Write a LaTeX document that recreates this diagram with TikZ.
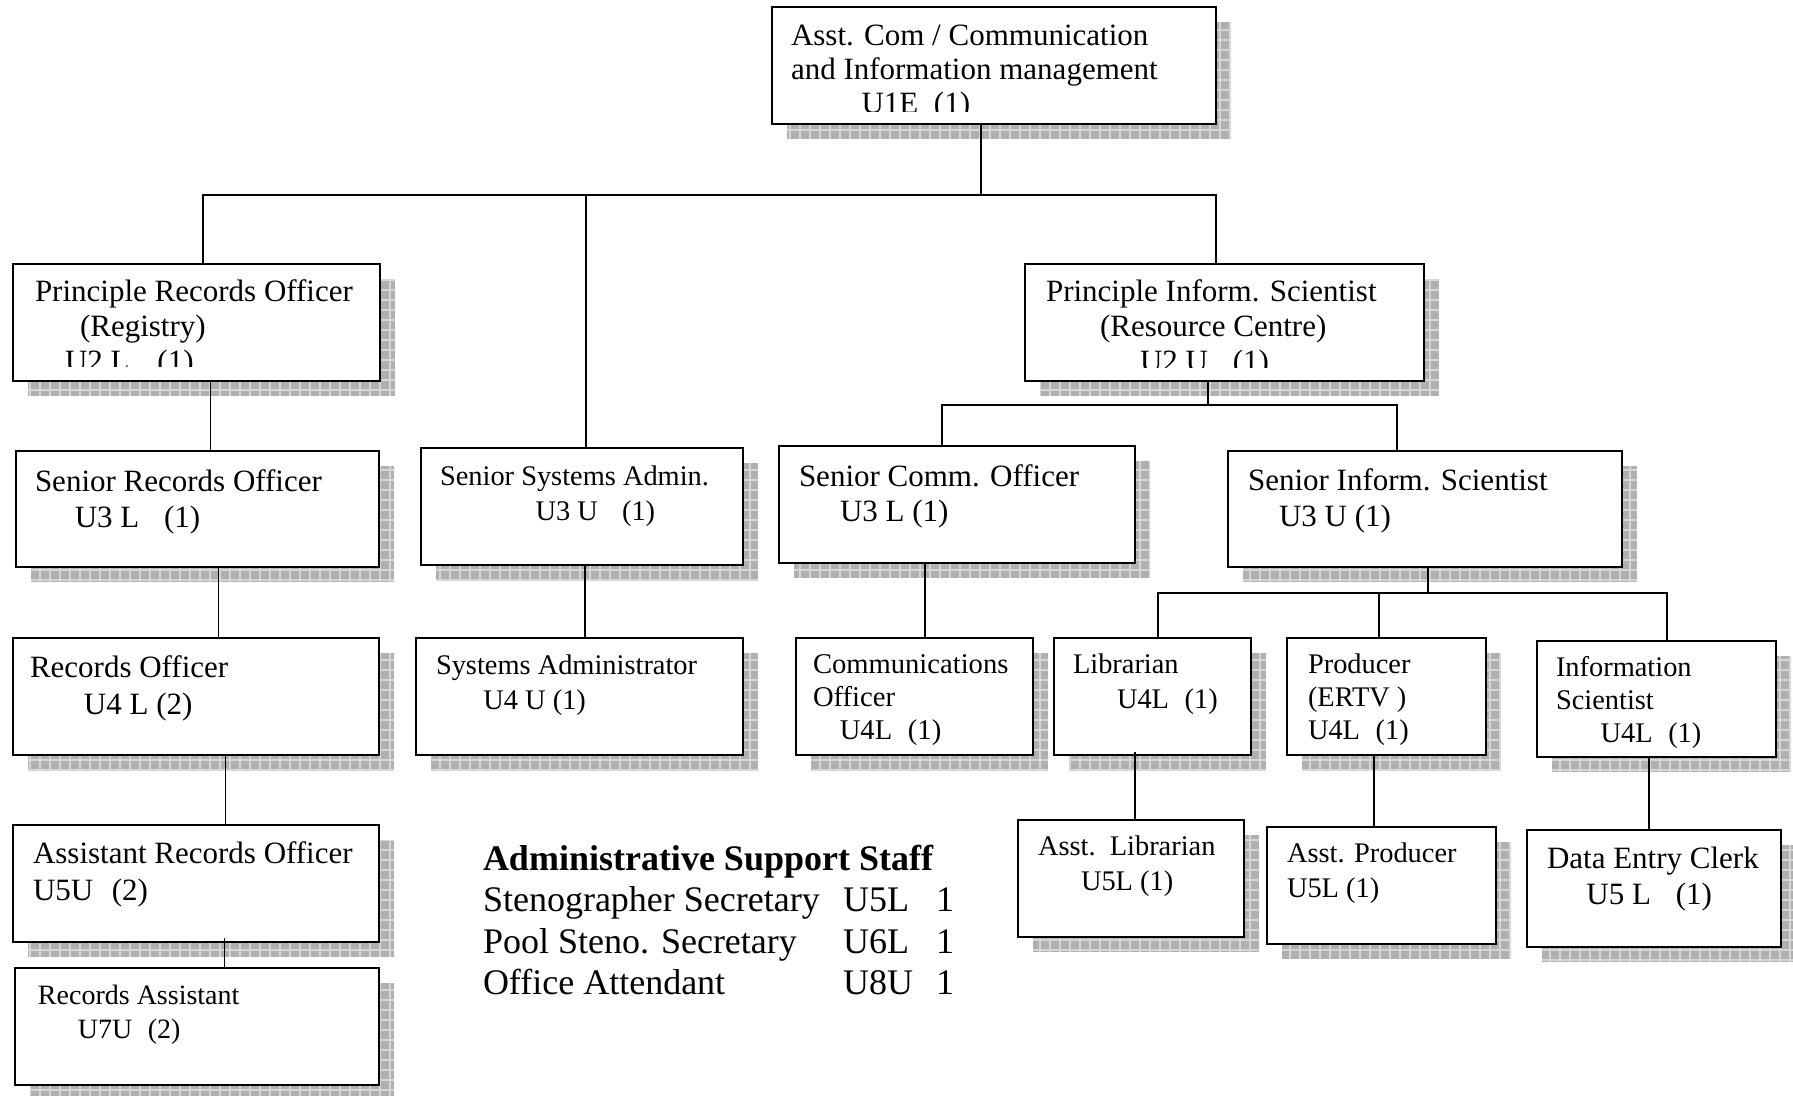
\documentclass[tikz,border=0pt]{standalone}
\usepackage{fontspec}
\setmainfont{Liberation Serif}
\usetikzlibrary{fit}
\pgfdeclarelayer{bg}
\pgfsetlayers{bg,main}
\definecolor{shadowgray}{RGB}{176,176,176}
\definecolor{shadowline}{RGB}{214,214,214}
\newcommand\oneline[2][0pt]{\hbox{\kern#1\relax #2}}
\newcommand\mlines[3]{\vtop{\fontsize{#1}{#2}\selectfont #3}}
\newcommand\shadowrect[4]{%
  \begin{scope}
    \clip (#1+15,#2+15) rectangle (#3+15,#4+15);
    \fill[shadowgray] (#1+15,#2+15) rectangle (#3+15,#4+15);
    \draw[shadowline, line width=0.6pt] (#1+15,#2+15) grid[step=5pt] (#3+15,#4+15);
  \end{scope}}
\newcommand\orgbox[5]{%
  \begin{pgfonlayer}{bg}\shadowrect{#2}{#3}{#4}{#5}\end{pgfonlayer}
  \node[boxstyle, fit={(#2,#3) (#4,#5)}] (#1) {};}
\begin{document}
\begin{tikzpicture}[x=0.5pt, y=-0.5pt,
  boxstyle/.style={draw, line width=1pt, fill=white, inner sep=0pt, outer sep=0pt},
  conn/.style={line width=0.8pt},
  label/.style={anchor=base west, inner sep=0pt, outer sep=0pt}]
\useasboundingbox (0,0) rectangle (1793,1096);

% boxes
\orgbox{top}{772}{7}{1216}{124}
\orgbox{pro}{13}{264}{380}{381}
\orgbox{pis}{1025}{264}{1424}{381}
\orgbox{sro}{16}{451}{379}{567}
\orgbox{ssa}{421}{448}{743}{565}
\orgbox{sco}{779}{446}{1135}{563}
\orgbox{sis}{1228}{451}{1622}{567}
\orgbox{ro}{13}{638}{379}{755}
\orgbox{sysa}{416}{638}{743}{755}
\orgbox{co}{796}{638}{1033}{755}
\orgbox{lib}{1054}{638}{1251}{755}
\orgbox{prod}{1287}{638}{1486}{755}
\orgbox{isci}{1537}{641}{1776}{757}
\orgbox{aro}{13}{825}{379}{942}
\orgbox{ra}{15}{968}{379}{1085}
\orgbox{alib}{1018}{820}{1244}{937}
\orgbox{aprod}{1267}{827}{1496}{944}
\orgbox{dec}{1527}{830}{1781}{947}

% connectors
\coordinate (j1) at (981,195);
\coordinate (j2) at (1208,405);
\coordinate (j3) at (1428,593);
\draw[conn] (top.south -| j1) -- (j1);
\draw[conn] (pro.north -| 203,0) -- (203,195) -- (1216,195) -- (pis.north -| 1216,0);
\draw[conn] (586,195) -- (ssa.north -| 586,0);
\draw[conn] (pro.south -| 210.5,0) -- (sro.north -| 210.5,0);
\draw[conn] (sro.south -| 218.5,0) -- (ro.north -| 218.5,0);
\draw[conn] (ro.south -| 225.5,0) -- (aro.north -| 225.5,0);
\draw[conn] (224.5,938) -- (ra.north -| 224.5,0);
\draw[conn] (ssa.south -| 585,0) -- (sysa.north -| 585,0);
\draw[conn] (pis.south -| j2) -- (j2);
\draw[conn] (sco.north -| 942,0) -- (942,405) -- (1397,405) -- (sis.north -| 1397,0);
\draw[conn] (sco.south -| 925,0) -- (co.north -| 925,0);
\draw[conn] (sis.south -| j3) -- (j3);
\draw[conn] (lib.north -| 1158,0) -- (1158,593) -- (1667,593) -- (isci.north -| 1667,0);
\draw[conn] (1379,593) -- (prod.north -| 1379,0);
\draw[conn] (1135,752) -- (alib.north -| 1135,0);
\draw[conn] (1374,755) -- (aprod.north -| 1374,0);
\draw[conn] (isci.south -| 1649,0) -- (dec.north -| 1649,0);

% texts (clipped ones)
\begin{scope}
  \clip (772,7) rectangle (1216,112);
  \node[label] (ttop) at (791,46) {\mlines{15.5}{17}{%
    \oneline{Asst. Com / Communication}
    \oneline{and Information management}
    \oneline[35.3pt]{U1E\hspace{0.5em}(1)}}};
\end{scope}
\begin{scope}
  \clip (13,264) rectangle (380,367);
  \node[label] (tpro) at (35,302) {\mlines{15.5}{17.5}{%
    \oneline{Principle Records Officer}
    \oneline[22.5pt]{(Registry)}
    \oneline[15pt]{U2 L\hspace{0.9em}(1)}}};
\end{scope}
\begin{scope}
  \clip (1025,264) rectangle (1424,368);
  \node[label] (tpis) at (1046,302) {\mlines{15.5}{17.5}{%
    \oneline{Principle Inform. Scientist}
    \oneline[27pt]{(Resource Centre)}
    \oneline[47pt]{U2 U\hspace{0.8em}(1)}}};
\end{scope}

% texts
\node[label] (tsro) at (35,491) {\mlines{15.5}{18}{%
  \oneline{Senior Records Officer}
  \oneline[19.9pt]{U3 L\hspace{0.8em}(1)}}};
\node[label] (tssa) at (440,485) {\mlines{14.2}{17.5}{%
  \oneline{Senior Systems Admin.}
  \oneline[47.8pt]{U3 U\hspace{0.85em}(1)}}};
\node[label] (tsco) at (799,486) {\mlines{15.5}{17.5}{%
  \oneline{Senior Comm. Officer}
  \oneline[20.5pt]{U3 L (1)}}};
\node[label] (tsis) at (1248,490) {\mlines{15.5}{18}{%
  \oneline{Senior Inform. Scientist}
  \oneline[15.5pt]{U3 U (1)}}};
\node[label] (tro) at (30,677) {\mlines{15.5}{18.5}{%
  \oneline{Records Officer}
  \oneline[27pt]{U4 L (2)}}};
\node[label] (tsysa) at (436,674) {\mlines{14.2}{17.5}{%
  \oneline{Systems Administrator}
  \oneline[23.7pt]{U4 U (1)}}};
\node[label] (tco) at (813,673) {\mlines{14.3}{16.5}{%
  \oneline{Communications}
  \oneline{Officer}
  \oneline[13.4pt]{U4L\hspace{0.55em}(1)}}};
\node[label] (tlib) at (1073,673) {\mlines{14.2}{17.5}{%
  \oneline{Librarian}
  \oneline[22pt]{U4L\hspace{0.55em}(1)}}};
\node[label] (tprod) at (1308,673) {\mlines{14.2}{16.5}{%
  \oneline{Producer}
  \oneline{(ERTV )}
  \oneline{U4L\hspace{0.55em}(1)}}};
\node[label] (tisci) at (1556,676) {\mlines{14.2}{16.5}{%
  \oneline{Information}
  \oneline{Scientist}
  \oneline[22.3pt]{U4L\hspace{0.55em}(1)}}};
\node[label] (taro) at (33,863) {\mlines{15.5}{18.5}{%
  \oneline{Assistant Records Officer}
  \oneline{U5U\hspace{0.6em}(2)}}};
\node[label] (tra) at (38,1004) {\mlines{14}{17}{%
  \oneline{Records Assistant}
  \oneline[20pt]{U7U\hspace{0.55em}(2)}}};
\node[label] (talib) at (1038,855) {\mlines{14.2}{17.5}{%
  \oneline{Asst.\hspace{0.5em}Librarian}
  \oneline[21.5pt]{U5L (1)}}};
\node[label] (taprod) at (1287,862) {\mlines{14.2}{17.5}{%
  \oneline{Asst. Producer}
  \oneline{U5L (1)}}};
\node[label] (tdec) at (1547,868) {\mlines{15.5}{18.3}{%
  \oneline{Data Entry Clerk}
  \oneline[19.7pt]{U5 L\hspace{0.8em}(1)}}};

% administrative support staff
\node[label] (admin) at (483,870) {\mlines{18}{20.75}{%
  \oneline{\bfseries Administrative Support Staff}
  \oneline{\makebox[180pt][l]{Stenographer Secretary}\makebox[46.6pt][l]{U5L}1}
  \oneline{\makebox[180pt][l]{Pool Steno. Secretary}\makebox[46.6pt][l]{U6L}1}
  \oneline{\makebox[180pt][l]{Office Attendant}\makebox[46.6pt][l]{U8U}1}}};
\end{tikzpicture}
\end{document}
